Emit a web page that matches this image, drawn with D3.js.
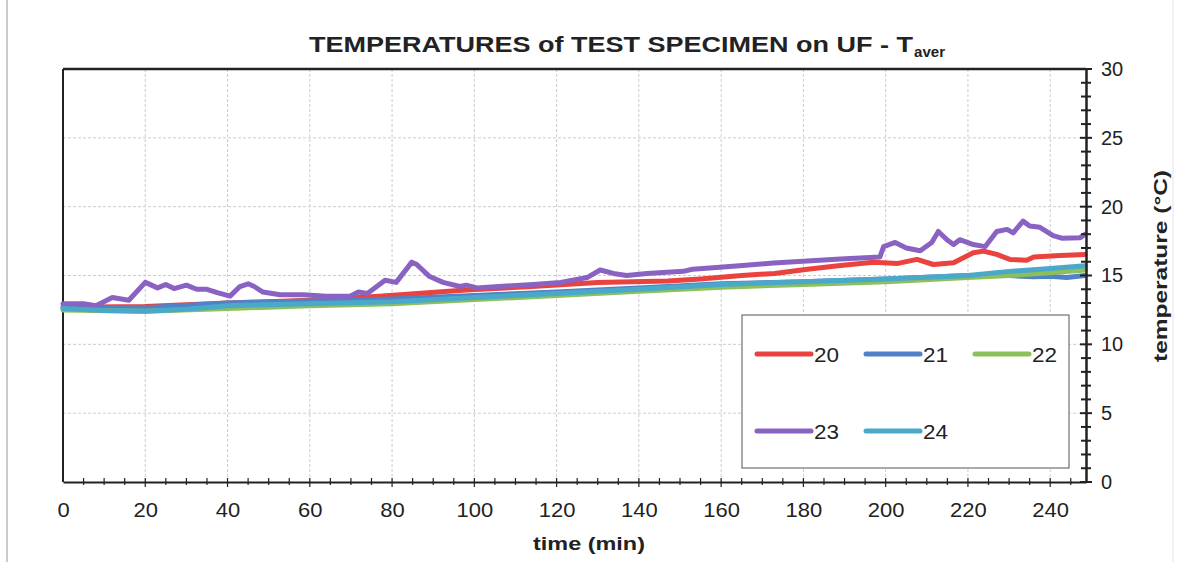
<!DOCTYPE html>
<html>
<head>
<meta charset="utf-8">
<script src="https://cdnjs.cloudflare.com/ajax/libs/d3/7.8.5/d3.min.js"></script>
<style>
  body { margin: 0; background: #fff; }
  svg { font-family: "Liberation Sans", Arial, sans-serif; }
</style>
</head>
<body>
<div id="viz"></div>
<script>
// readings per thermocouple: [time (min), temperature (°C)]
var s20 = [[0,12.7],[20,12.75],[40,13.0],[60,13.2],[75,13.45],[82,13.6],[98,13.95],[114,14.2],[130,14.5],[147,14.6],[155,14.75],
  [165,15.0],[173,15.15],[181,15.45],[189,15.73],[197,15.97],[203,15.88],[207.6,16.17],[211.6,15.8],[216.5,15.93],
  [221.3,16.65],[223.8,16.77],[227,16.53],[230.2,16.17],[234.3,16.1],[236,16.35],[242.4,16.45],[248.5,16.53]];
var s21 = [[0,12.7],[20,12.65],[40,13.0],[60,13.15],[80,13.3],[100,13.55],[120,13.8],[140,14.1],[160,14.4],[180,14.55],
  [200,14.75],[220,15.0],[230,15.0],[236,14.9],[240,14.95],[244,14.85],[248.5,15.0]];
var s22 = [[0,12.5],[20,12.4],[40,12.6],[60,12.8],[80,12.95],[100,13.25],[120,13.55],[140,13.85],[160,14.15],[180,14.35],
  [200,14.55],[220,14.85],[230,15.0],[240,15.2],[248.5,15.4]];
var s23 = [[0,12.95],[5,12.95],[8,12.8],[12,13.4],[16,13.2],[20,14.5],[23,14.1],[25,14.35],[27,14.05],[30,14.3],[32.5,14.0],
  [35,14.0],[37.5,13.75],[40.6,13.5],[43,14.2],[45,14.4],[46.5,14.2],[48.6,13.8],[52.8,13.6],[58.4,13.6],[64,13.5],[69.8,13.5],
  [71.8,13.8],[74,13.7],[78.3,14.66],[81,14.5],[84.8,15.97],[86,15.8],[89,14.95],[92.4,14.5],[96.5,14.2],[98,14.3],[100.6,14.1],
  [106,14.2],[114.3,14.35],[121,14.5],[127.4,14.85],[130.6,15.4],[133.8,15.15],[137,15.0],[142,15.15],[150.8,15.3],[153,15.45],
  [159.7,15.6],[166,15.75],[172.7,15.9],[180.9,16.05],[189,16.2],[198.6,16.35],[199.5,17.1],[202.3,17.4],[205,17.0],[208.4,16.8],
  [211.2,17.4],[212.8,18.2],[214.9,17.6],[216.5,17.25],[218,17.6],[221.3,17.25],[224.2,17.1],[227,18.2],[229.5,18.35],[231,18.1],
  [233.4,18.95],[235,18.6],[237.5,18.5],[240.7,17.9],[243,17.7],[247.3,17.75],[248.5,18.0]];
var s24 = [[0,12.6],[10,12.45],[20,12.4],[30,12.55],[40,12.8],[60,12.95],[80,13.1],[100,13.4],[120,13.7],[140,14.0],[160,14.35],
  [180,14.55],[200,14.75],[220,15.0],[230,15.3],[240,15.5],[248.5,15.7]];

var seriesNames = ['20', '21', '22', '23', '24'],
    seriesData = [s20, s21, s22, s23, s24],
    colors = ['#e9423f', '#5181c6', '#8dbf5b', '#8a62c2', '#4aa9c9'];

var xTicks = [0, 20, 40, 60, 80, 100, 120, 140, 160, 180, 200, 220, 240],
    yTicks = [0, 5, 10, 15, 20, 25, 30];

var W = 1179, H = 562,
    plotLeft = 63, plotRight = 1086, plotTop = 69, plotBottom = 482;

var svg = d3.select('#viz').append('svg')
    .attr('width', W)
    .attr('height', H);

// faint scan frame
svg.append('line').attr('x1', 7).attr('x2', 7).attr('y1', 0).attr('y2', H)
    .attr('stroke', '#bbb').attr('stroke-width', 1.5);
svg.append('line').attr('x1', 1173).attr('x2', 1173).attr('y1', 0).attr('y2', H)
    .attr('stroke', '#e4e4e4').attr('stroke-width', 1);

var xScale = d3.scaleLinear().domain([0, 248.7]).range([plotLeft, plotRight]);
var yScale = d3.scaleLinear().domain([0, 30]).range([plotBottom, plotTop]);

// grid
svg.append('g').selectAll('line').data(xTicks.slice(1))
  .enter().append('line')
    .attr('x1', function(d){ return xScale(d); })
    .attr('x2', function(d){ return xScale(d); })
    .attr('y1', plotTop).attr('y2', plotBottom)
    .attr('stroke', '#c9ccd2').attr('stroke-width', 1)
    .attr('stroke-dasharray', '3,2');
svg.append('g').selectAll('line').data(yTicks.slice(1, -1))
  .enter().append('line')
    .attr('x1', plotLeft).attr('x2', plotRight)
    .attr('y1', function(d){ return yScale(d); })
    .attr('y2', function(d){ return yScale(d); })
    .attr('stroke', '#c9ccd2').attr('stroke-width', 1)
    .attr('stroke-dasharray', '3,2');

// frame
svg.append('line').attr('x1', plotLeft).attr('x2', plotRight).attr('y1', plotTop).attr('y2', plotTop)
    .attr('stroke', '#222').attr('stroke-width', 2.5);
svg.append('line').attr('x1', plotLeft).attr('x2', plotLeft).attr('y1', plotTop).attr('y2', plotBottom)
    .attr('stroke', '#222').attr('stroke-width', 2);

// series
var line = d3.line()
    .x(function(d){ return xScale(d[0]); })
    .y(function(d){ return yScale(d[1]); });

svg.append('g').selectAll('path').data(seriesData)
  .enter().append('path')
    .attr('d', line)
    .attr('fill', 'none')
    .attr('stroke', function(d, i){ return colors[i]; })
    .attr('stroke-width', 5)
    .attr('stroke-linejoin', 'round')
    .attr('stroke-linecap', 'round');

// x axis
var xAxis = d3.axisBottom(xScale)
    .tickValues(xTicks)
    .tickSize(0)
    .tickPadding(21);
var gx = svg.append('g')
    .attr('transform', 'translate(0,' + plotBottom + ')')
    .call(xAxis);
gx.select('.domain').attr('stroke', '#222').attr('stroke-width', 2);
gx.selectAll('text').style('font-size', '20px').attr('fill', '#222')
    .attr('transform', 'scale(1.1,1)');
gx.selectAll('.minor').data(d3.range(5, 248, 5))
  .enter().append('line')
    .attr('class', 'minor')
    .attr('x1', function(d){ return xScale(d); })
    .attr('x2', function(d){ return xScale(d); })
    .attr('y1', -4).attr('y2', function(d){ return d % 20 === 0 ? 5 : 3; })
    .attr('stroke', '#222').attr('stroke-width', 1.2);

// y axis on the right
var yAxis = d3.axisRight(yScale)
    .tickValues(yTicks)
    .tickSize(0)
    .tickPadding(15);
var gy = svg.append('g')
    .attr('transform', 'translate(' + plotRight + ',0)')
    .call(yAxis);
gy.select('.domain').attr('stroke', '#222').attr('stroke-width', 2.5);
gy.selectAll('text').style('font-size', '20px').attr('fill', '#222');
gy.selectAll('.minor').data(d3.range(0, 31, 1))
  .enter().append('line')
    .attr('class', 'minor')
    .attr('x1', function(d){ return d % 5 === 0 ? -6 : -5; })
    .attr('x2', function(d){ return d % 5 === 0 ? 6 : 5; })
    .attr('y1', function(d){ return yScale(d); })
    .attr('y2', function(d){ return yScale(d); })
    .attr('stroke', '#222').attr('stroke-width', 2);

// titles
svg.append('text')
    .attr('x', 309).attr('y', 52)
    .attr('textLength', 604).attr('lengthAdjust', 'spacingAndGlyphs')
    .style('font-size', '22px')
    .style('font-weight', 'bold')
    .attr('fill', '#222')
    .text('TEMPERATURES of TEST SPECIMEN on UF - T');
svg.append('text')
    .attr('x', 914).attr('y', 57)
    .attr('textLength', 31).attr('lengthAdjust', 'spacingAndGlyphs')
    .style('font-size', '15px')
    .style('font-weight', 'bold')
    .attr('fill', '#222')
    .text('aver');

svg.append('text')
    .attr('x', 533).attr('y', 550)
    .attr('textLength', 112).attr('lengthAdjust', 'spacingAndGlyphs')
    .style('font-size', '19px')
    .style('font-weight', 'bold')
    .attr('fill', '#222')
    .text('time (min)');

svg.append('text')
    .attr('transform', 'translate(1167,362) rotate(-90)')
    .attr('textLength', 192).attr('lengthAdjust', 'spacingAndGlyphs')
    .style('font-size', '18px')
    .style('font-weight', 'bold')
    .attr('fill', '#222')
    .text('temperature (°C)');

// legend
var legend = svg.append('g');
legend.append('rect')
    .attr('x', 742).attr('y', 315).attr('width', 327).attr('height', 153)
    .attr('fill', '#fff').attr('stroke', '#555').attr('stroke-width', 1);
var legX = [757, 866, 975], legY = [354, 431];
var items = legend.selectAll('g.item').data(seriesNames)
  .enter().append('g')
    .attr('class', 'item')
    .attr('transform', function(d, i){
        return 'translate(' + legX[i % 3] + ',' + legY[Math.floor(i / 3)] + ')';
    });
items.append('line')
    .attr('x1', 0).attr('x2', 54).attr('y1', 0).attr('y2', 0)
    .attr('stroke', function(d, i){ return colors[i]; })
    .attr('stroke-width', 5)
    .attr('stroke-linecap', 'round');
items.append('text')
    .attr('x', 57).attr('y', 8)
    .attr('textLength', 25).attr('lengthAdjust', 'spacingAndGlyphs')
    .style('font-size', '21px')
    .attr('fill', '#222')
    .text(function(d){ return d; });
</script>
</body>
</html>
